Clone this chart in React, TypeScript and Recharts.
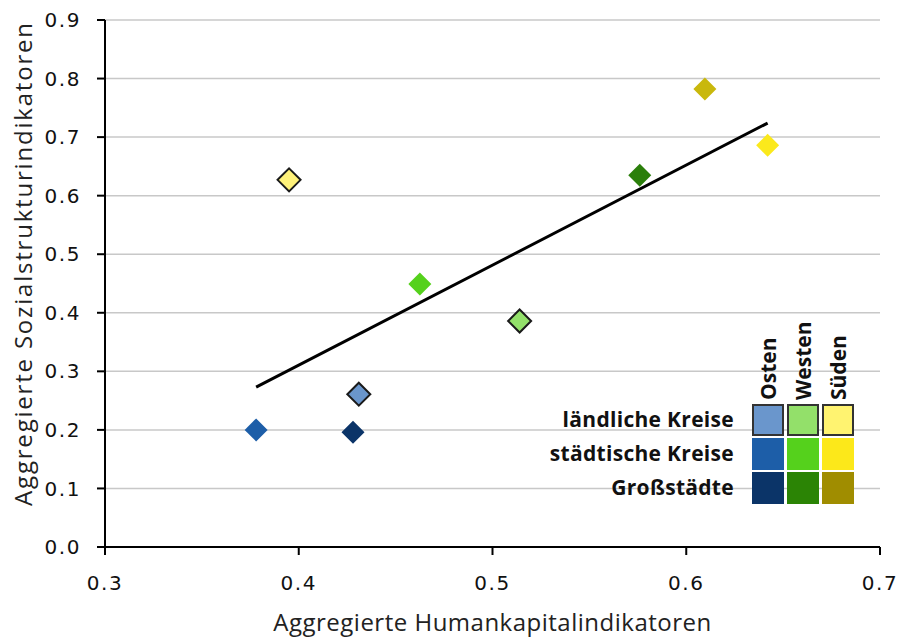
import React from 'react';
import { ScatterChart, Scatter, XAxis, YAxis, CartesianGrid, ReferenceLine } from 'recharts';

const regions = ['Osten', 'Westen', 'Süden'];
const kreisTypes = ['ländliche Kreise', 'städtische Kreise', 'Großstädte'];

// x = Humankapital, y = Sozialstruktur; order: ländlich, städtisch, Großstädte
const ostenX = [0.431, 0.378, 0.428];
const ostenY = [0.261, 0.200, 0.196];
const westenX = [0.514, 0.4625, 0.576];
const westenY = [0.386, 0.449, 0.635];
const suedenX = [0.395, 0.642, 0.6096];
const suedenY = [0.627, 0.686, 0.782];

const trendX = [0.378, 0.642];
const trendY = [0.273, 0.724];

const xTicks = [0.3, 0.4, 0.5, 0.6, 0.7];
const yTicks = [0, 0.1, 0.2, 0.3, 0.4, 0.5, 0.6, 0.7, 0.8, 0.9];

const pointColors = [
  ['#6a96cc', '#1d5ea8', '#0b3468'],
  ['#93e06a', '#55d11c', '#2b7f0b'],
  ['#fff27a', '#fbe91c', '#c9b80c'],
];
const legendColors = [
  ['#6a96cc', '#1d5ea8', '#0b3468'],
  ['#93e06a', '#55d11c', '#2b8405'],
  ['#fff370', '#fce81a', '#a08d00'],
];

const xs = [ostenX, westenX, suedenX];
const ys = [ostenY, westenY, suedenY];

const Diamond = (props: any) => {
  const { cx, cy, fill, outlined } = props;
  if (cx == null || cy == null) return <g />;
  const r = 11.5;
  return (
    <polygon
      points={`${cx},${cy - r} ${cx + r},${cy} ${cx},${cy + r} ${cx - r},${cy}`}
      fill={fill}
      stroke={outlined ? '#1a1a1a' : 'none'}
      strokeWidth={outlined ? 2 : 0}
    />
  );
};

const fmt = (v: number) => v.toFixed(1);
const tickFont = { fontFamily: 'DejaVu Sans', fontSize: 20, fill: '#111', letterSpacing: 1.6 };

const YTitle = (props: any) => {
  const vb = props.viewBox || {};
  const cx = (vb.x ?? 0) + 22;
  const cy = (vb.y ?? 0) + (vb.height ?? 0) / 2 - 20;
  return (
    <text
      x={cx}
      y={cy}
      transform={`rotate(-90 ${cx} ${cy})`}
      textAnchor="middle"
      dominantBaseline="central"
      style={{ fontFamily: 'Open Sans', fontSize: 24, fill: '#222', letterSpacing: 1.8 }}
    >
      {props.value}
    </text>
  );
};

export default function App() {
  const series: { key: string; data: { x: number; y: number }[]; fill: string; outlined: boolean }[] = [];
  regions.forEach((r, ri) => {
    kreisTypes.forEach((t, ti) => {
      series.push({
        key: `${r}-${t}`,
        data: [{ x: xs[ri][ti], y: ys[ri][ti] }],
        fill: pointColors[ri][ti],
        outlined: ti === 0,
      });
    });
  });

  return (
    <div style={{ position: 'absolute', left: 0, top: 0, width: 897, height: 638, background: '#fff' }}>
      <ScatterChart width={897} height={638} margin={{ top: 20, right: 17, bottom: 0, left: 0 }}>
        <CartesianGrid horizontal vertical={false} stroke="#c8c8c8" strokeWidth={1.5} />
        <XAxis
          type="number"
          dataKey="x"
          domain={[0.3, 0.7]}
          ticks={xTicks}
          tickFormatter={fmt}
          height={91}
          stroke="#000"
          strokeWidth={2}
          tickSize={8}
          tickMargin={21}
          tick={tickFont}
          label={{
            value: 'Aggregierte Humankapitalindikatoren',
            position: 'insideBottom',
            offset: 7,
            style: { fontFamily: 'Open Sans', fontSize: 24, fill: '#222', letterSpacing: 0.5 },
          }}
        />
        <YAxis
          type="number"
          dataKey="y"
          domain={[0, 0.9]}
          ticks={yTicks}
          tickFormatter={fmt}
          width={105}
          stroke="#000"
          strokeWidth={2}
          tickSize={8}
          tickMargin={16}
          tick={tickFont}
          label={<YTitle value="Aggregierte Sozialstrukturindikatoren" />}
        />
        <ReferenceLine
          segment={[
            { x: trendX[0], y: trendY[0] },
            { x: trendX[1], y: trendY[1] },
          ]}
          stroke="#000"
          strokeWidth={3}
          ifOverflow="visible"
        />
        {series.map((s) => (
          <Scatter
            key={s.key}
            data={s.data}
            fill={s.fill}
            isAnimationActive={false}
            shape={(p: any) => <Diamond {...p} fill={s.fill} outlined={s.outlined} />}
          />
        ))}
      </ScatterChart>
      <div style={{ position: 'absolute', left: 540, top: 310, width: 330, height: 200, fontFamily: 'Open Sans', fontWeight: 700, color: '#111' }}>
        {regions.map((r, ri) => (
          <div
            key={r}
            style={{
              position: 'absolute',
              left: 212 + ri * 35 + 16,
              top: 90,
              transform: 'rotate(-90deg)',
              transformOrigin: '0 0',
              fontSize: 21,
              lineHeight: '22px',
              whiteSpace: 'nowrap',
              marginLeft: -11,
            }}
          >
            {r}
          </div>
        ))}
        {kreisTypes.map((t, ti) => (
          <div
            key={t}
            style={{
              position: 'absolute',
              right: 330 - 194,
              top: 94 + ti * 34,
              fontSize: 21,
              lineHeight: '30px',
              letterSpacing: 0.3,
              whiteSpace: 'nowrap',
              textAlign: 'right',
            }}
          >
            {t}
          </div>
        ))}
        {regions.map((r, ri) =>
          kreisTypes.map((t, ti) => (
            <div
              key={`${r}-${t}`}
              style={{
                position: 'absolute',
                left: 212 + ri * 35,
                top: 94 + ti * 34,
                width: 32,
                height: 32,
                boxSizing: 'border-box',
                background: legendColors[ri][ti],
                border: ti === 0 ? '2px solid #333' : 'none',
              }}
            />
          ))
        )}
      </div>
    </div>
  );
}
